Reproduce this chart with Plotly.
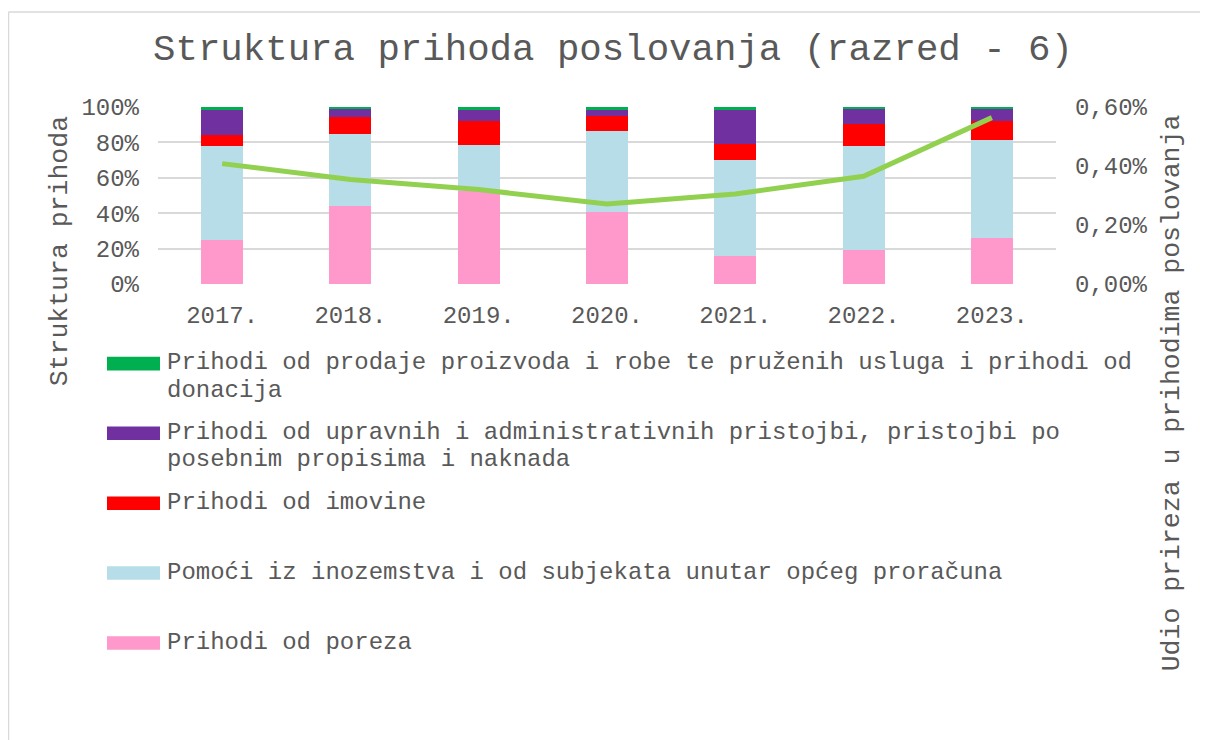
import plotly.graph_objects as go

# ---- data ----
years = ["2017.", "2018.", "2019.", "2020.", "2021.", "2022.", "2023."]
porez = [0.251, 0.441, 0.524, 0.405, 0.156, 0.190, 0.260]
pomoci = [0.529, 0.406, 0.260, 0.461, 0.545, 0.592, 0.554]
imovina = [0.062, 0.099, 0.135, 0.083, 0.090, 0.120, 0.107]
upravne = [0.141, 0.045, 0.064, 0.034, 0.192, 0.089, 0.070]
prodaja = [0.017, 0.009, 0.017, 0.017, 0.017, 0.009, 0.009]
prirez_udio = [0.00408, 0.00354, 0.00320, 0.00271, 0.00305, 0.00365, 0.00564]

names = [
    "Prihodi od prodaje proizvoda i robe te pruženih usluga i prihodi od\ndonacija",
    "Prihodi od upravnih i administrativnih pristojbi, pristojbi po\nposebnim propisima i naknada",
    "Prihodi od imovine",
    "Pomoći iz inozemstva i od subjekata unutar općeg proračuna",
    "Prihodi od poreza",
]
colors = ["#00B050", "#7030A0", "#FF0000", "#B7DDE8", "#FF99CC"]

title = "Struktura prihoda poslovanja (razred - 6)"
left_title = "Struktura prihoda"
right_title = "Udio prireza u prihodima poslovanja"

FONT = "Liberation Mono"
TXT = "#595959"
W, H = 1208, 740
OFF = 8  # page body offset
L, R, T, B = 158, 1056, 106.7, 283.7


def px(x):
    return (x - L) / (R - L)


def py(y):
    return (B - y) / (B - T)


fig = go.Figure()
series = [porez, pomoci, imovina, upravne, prodaja]
for vals, col in zip(series, colors[::-1]):
    fig.add_trace(go.Bar(x=years, y=vals, marker=dict(color=col, line=dict(width=0)),
                         showlegend=False, yaxis="y"))

fig.add_trace(go.Scatter(x=years, y=prirez_udio, mode="lines",
                         line=dict(color="#92D050", width=5),
                         showlegend=False, yaxis="y2"))

# manual legend
leg_y = [363.3, 433.0, 503.0, 572.7, 642.7]
shapes = []
annotations = []
for name, col, yc in zip(names, colors, leg_y):
    shapes.append(dict(type="rect", xref="paper", yref="paper",
                       x0=px(107), x1=px(160), y0=py(yc + 6.8), y1=py(yc - 6.8),
                       fillcolor=col, line=dict(width=0)))
    for i, line in enumerate(name.split("\n")):
        annotations.append(dict(text=line, xref="paper", yref="paper",
                                x=px(165), y=py(yc - 1 + i * 27.6),
                                xanchor="left", yanchor="middle", showarrow=False,
                                font=dict(family=FONT, size=24, color=TXT)))

# border (left and top edges visible)
shapes.append(dict(type="line", xref="paper", yref="paper",
                   x0=px(8.5), x1=px(8.5), y0=py(11.7), y1=py(760),
                   line=dict(color="#D9D9D9", width=1.5), layer="below"))
shapes.append(dict(type="line", xref="paper", yref="paper",
                   x0=px(8.5), x1=px(1240), y0=py(11.7), y1=py(11.7),
                   line=dict(color="#D9D9D9", width=1.5), layer="below"))

annotations.append(dict(text=title, xref="paper", yref="paper", x=px(612.5), y=py(50),
                        xanchor="center", yanchor="middle", showarrow=False,
                        font=dict(family=FONT, size=37.4, color=TXT)))
annotations.append(dict(text=left_title, xref="paper", yref="paper", x=px(60), y=py(251),
                        xanchor="center", yanchor="middle", showarrow=False, textangle=-90,
                        font=dict(family=FONT, size=26.5, color=TXT)))
annotations.append(dict(text=right_title, xref="paper", yref="paper", x=px(1172), y=py(393),
                        xanchor="center", yanchor="middle", showarrow=False, textangle=-90,
                        font=dict(family=FONT, size=26.5, color=TXT)))

fig.update_layout(
    width=W, height=H,
    margin=dict(l=L - OFF, r=W - (R - OFF), t=T - OFF, b=H - (B - OFF), pad=0),
    barmode="stack", bargap=0.673,
    paper_bgcolor="white", plot_bgcolor="white",
    separators=", ",
    font=dict(family=FONT, size=24, color=TXT),
    showlegend=False,
    shapes=shapes, annotations=annotations,
    xaxis=dict(showgrid=False, showline=False, zeroline=False, ticks="",
               ticklabelstandoff=14, tickfont=dict(family=FONT, size=24, color=TXT)),
    yaxis=dict(range=[0, 1], tickvals=[0, 0.2, 0.4, 0.6, 0.8, 1.0], tickformat=".0%",
               showgrid=True, gridcolor="#D9D9D9", gridwidth=1.5, zeroline=False,
               showline=False, ticks="", ticklabelstandoff=18,
               tickfont=dict(family=FONT, size=24, color=TXT)),
    yaxis2=dict(range=[0, 0.006], tickvals=[0, 0.002, 0.004, 0.006], tickformat=".2%",
                overlaying="y", side="right", showgrid=False, zeroline=False,
                showline=False, ticks="", ticklabelstandoff=18,
                tickfont=dict(family=FONT, size=24, color=TXT)),
)

fig.write_html("out.html")
